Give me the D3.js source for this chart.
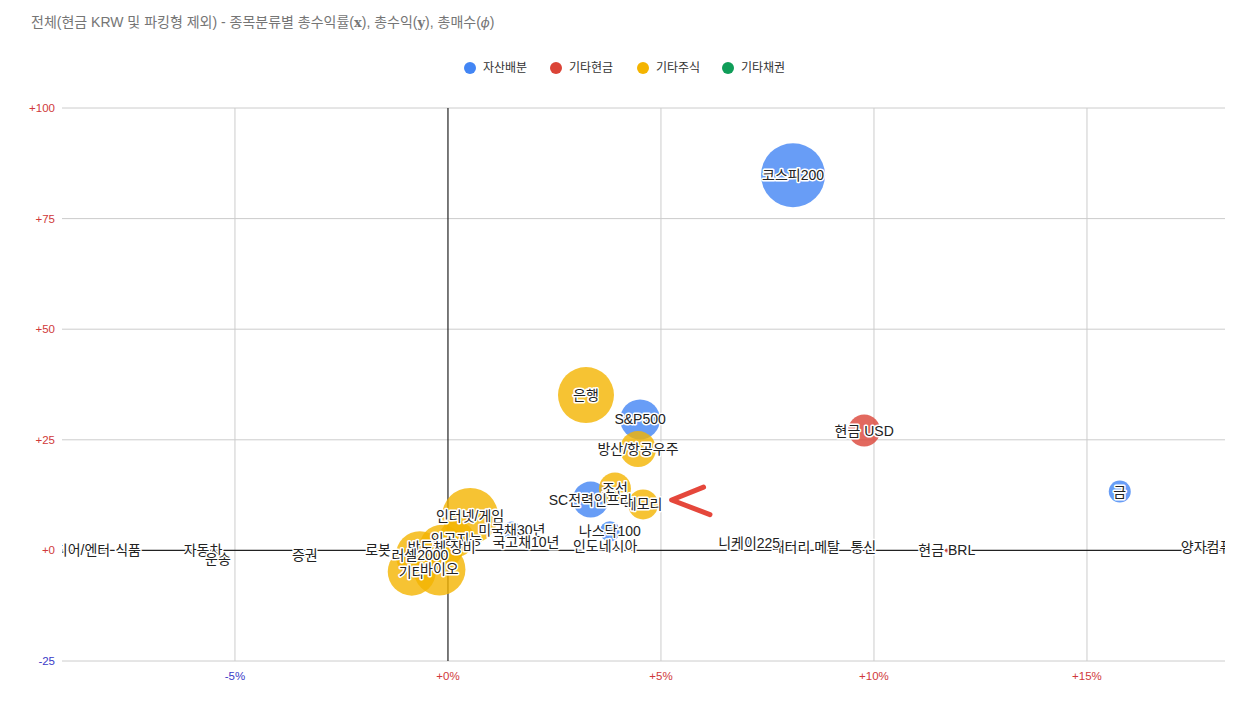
<!DOCTYPE html>
<html><head><meta charset="utf-8">
<script src="https://cdn.jsdelivr.net/npm/d3@7"></script>
<style>
body{margin:0;background:#fff;}
text{font-family:"Liberation Sans","Noto Sans CJK KR",Arial,sans-serif;}
</style></head>
<body><svg id="c" width="1245" height="709"></svg>
<script>
const titleParts = [["전체(현금 KRW 및 파킹형 제외) - 종목분류별 총수익률(",0],["x",1],["), 총수익(",0],["y",1],["), 총매수(",0],["ϕ",2],[")",0]];
const groupNames = ["자산배분","기타현금","기타주식","기타채권"];
const groupColors = ["#4285f4","#db4437","#f4b400","#0f9d58"];

const names = ["코스피200","현금 USD","금","은행","방산/항공우주","S&P500","조선","메모리","SC전력인프라",
  "인터넷/게임","인공지능","미국채30년","국고채10년","인도네시아","나스닥100",
  "반도체 장비","로봇","러셀2000","기타","바이오",
  "미디어/엔터","식품","자동차","운송","증권","배터리 메탈","니케이225","통신","현금 BRL","양자컴퓨팅"];
const groups = ["자산배분","기타현금","자산배분","기타주식","기타주식","자산배분","기타주식","기타주식","자산배분",
  "기타주식","기타주식","자산배분","자산배분","기타주식","자산배분",
  "기타주식","기타주식","기타주식","기타주식","기타주식",
  "기타주식","기타주식","기타주식","기타주식","기타주식","기타주식","자산배분","기타주식","기타현금","기타주식"];
const returnsPct = [8.10,9.77,15.77,3.24,4.46,4.51,3.92,4.58,3.35,
  0.52,0.20,1.50,1.83,3.69,3.80,
  -0.15,-1.64,-0.66,-0.85,-0.20,
  -8.73,-7.51,-5.75,-5.40,-3.36,8.40,7.07,9.75,11.71,17.96];
const profits = [84.8,27.1,13.3,35.1,22.9,29.6,14.0,10.4,11.5,
  7.8,2.6,4.5,1.8,1.1,4.3,
  0.8,0,-1.1,-4.8,-4.3,
  0,0,0,-2.0,-1.1,0.7,1.6,0.7,0,0.7];
const purchases = [1000,250,118,766,316,390,250,220,316,
  766,316,79,8,6,98,
  473,4,563,563,660,
  4,4,4,5,5,3,12,3,4,3];

const xTicks = [-5,0,5,10,15];
const yTicks = [-25,0,25,50,75,100];
const xDomain = [-9.06,18.24];
const yDomain = [-25,100];
const arrowPts = [[6.0,14.3],[5.25,11.4],[6.15,8.1]];

const svg = d3.select("#c");
const L=62,R=1225,T=108,B=661;
const x = d3.scaleLinear().domain(xDomain).range([L,R]);
const y = d3.scaleLinear().domain(yDomain).range([B,T]);
const r = d3.scaleSqrt().domain([0,1000]).range([0,32]);
const color = d3.scaleOrdinal().domain(groupNames).range(groupColors);

const tt = svg.append("text").attr("x",31).attr("y",27).attr("fill","#757575").attr("font-size",14);
titleParts.forEach(([s,k])=>{
  const ts = tt.append("tspan").text(s);
  if(k===1) ts.attr("font-family","'DejaVu Serif',serif").attr("font-weight","bold").attr("font-size",13);
  if(k===2) ts.attr("font-family","'DejaVu Serif',serif").attr("font-style","italic").attr("font-size",13);
});

// legend
const lg = svg.append("g");
const lx = [470,556,643,728];
groupNames.forEach((g,i)=>{
  lg.append("circle").attr("cx",lx[i]).attr("cy",68).attr("r",6).attr("fill",groupColors[i]);
  lg.append("text").attr("x",lx[i]+13).attr("y",72).attr("font-size",12).attr("fill","#333").text(g);
});

// grid
const fmtY = d=> (d>=0?"+":"")+d;
const fmtX = d=> (d>=0?"+":"")+d+"%";
svg.append("g").selectAll("line").data(yTicks.filter(d=>d!==0)).join("line")
  .attr("x1",L).attr("x2",R).attr("y1",d=>y(d)).attr("y2",d=>y(d)).attr("stroke","#cccccc");
svg.append("g").selectAll("line").data(xTicks.filter(d=>d!==0)).join("line")
  .attr("y1",T).attr("y2",B).attr("x1",d=>x(d)).attr("x2",d=>x(d)).attr("stroke","#cccccc");
svg.append("line").attr("x1",x(0)).attr("x2",x(0)).attr("y1",T).attr("y2",B).attr("stroke","#222").attr("stroke-width",1.2);
svg.append("line").attr("x1",L).attr("x2",R).attr("y1",y(0)).attr("y2",y(0)).attr("stroke","#222").attr("stroke-width",1.2);

svg.append("g").selectAll("text").data(yTicks).join("text")
  .attr("x",55).attr("y",d=>y(d)+4).attr("text-anchor","end").attr("font-size",11.5)
  .attr("fill",d=>d<0?"#3b3bc8":"#d0393a").text(fmtY);
svg.append("g").selectAll("text").data(xTicks).join("text")
  .attr("x",d=>x(d)).attr("y",680).attr("text-anchor","middle").attr("font-size",11.5)
  .attr("fill",d=>d<0?"#3b3bc8":"#d0393a").text(fmtX);

// data
const data = names.map((n,i)=>({i,name:n,group:groups[i],xv:returnsPct[i],yv:profits[i],s:purchases[i]}));
const bubbles = data.slice().sort((a,b)=>b.s-a.s);
svg.append("clipPath").attr("id","clip").append("rect").attr("x",L).attr("y",T-40).attr("width",R-L).attr("height",B-T+40);
const pg = svg.append("g").attr("clip-path","url(#clip)");
pg.selectAll("circle").data(bubbles).join("circle")
  .attr("cx",d=>x(d.xv)).attr("cy",d=>y(d.yv)).attr("r",d=>r(d.s))
  .attr("fill",d=>color(d.group)).attr("fill-opacity",0.8);
pg.selectAll("text").data(data).join("text")
  .attr("x",d=>x(d.xv)).attr("y",d=>y(d.yv)+5).attr("text-anchor","middle")
  .attr("font-size",14).attr("fill","#222").attr("stroke","#fff").attr("stroke-width",3)
  .attr("paint-order","stroke").attr("stroke-linejoin","round").text(d=>d.name);

// annotation arrow
svg.append("path").attr("d",d3.line().x(p=>x(p[0])).y(p=>y(p[1]))(arrowPts))
  .attr("fill","none").attr("stroke","#e5473b").attr("stroke-width",5)
  .attr("stroke-linecap","round").attr("stroke-linejoin","round");
</script></body></html>
